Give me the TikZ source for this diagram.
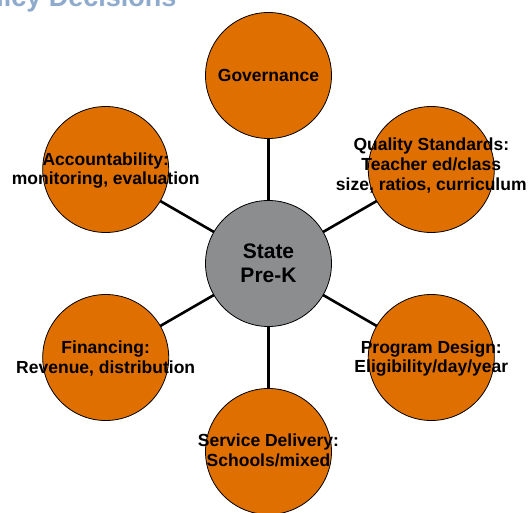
\documentclass[tikz,border=0pt]{standalone}
\usepackage{fontspec}
\setmainfont{Liberation Sans}
\usepackage{tikz}
\definecolor{hubgrey}{RGB}{139,141,143}
\definecolor{spokeorange}{RGB}{223,112,0}
\definecolor{titleblue}{RGB}{142,170,204}

\begin{document}
\begin{tikzpicture}[x=1pt, y=1pt,
	hub/.style={circle, draw=black, line width=0.8pt, fill=hubgrey, minimum size=126pt, inner sep=0pt},
	spoke/.style={circle, draw=black, line width=0.8pt, fill=spokeorange, minimum size=126pt, inner sep=0pt},
	lbl/.style={align=center, font=\fontsize{17.5}{19.8}\selectfont\bfseries, inner sep=0pt},
	link/.style={line width=2.6pt, color=black}]
			%%%%% START %%%%%
			
			\useasboundingbox (0, 0) rectangle (528, 512);
			\clip (0, 0) rectangle (528, 512);
			
			\node[anchor=base east, color=titleblue, font=\fontsize{27}{30}\selectfont\bfseries] (title) at (180, 505) {Policy Decisions};
			
			% hub
			\coordinate (c) at (268.5, 248.5);
			
			% spokes, 188pt out from the hub
			\coordinate (gov) at (268.5, 436.5);
			\coordinate (qual) at (431.3, 342.5);
			\coordinate (prog) at (431.3, 154.5);
			\coordinate (serv) at (268.5, 60.5);
			\coordinate (fin) at (105.7, 154.5);
			\coordinate (acc) at (105.7, 342.5);
			
			\foreach \s in {gov, qual, prog, serv, fin, acc}
				\draw[link] (c) -- (\s);
			
			\node[hub] (prek) at (c) {};
			\node[spoke] (govc) at (gov) {};
			\node[spoke] (qualc) at (qual) {};
			\node[spoke] (progc) at (prog) {};
			\node[spoke] (servc) at (serv) {};
			\node[spoke] (finc) at (fin) {};
			\node[spoke] (accc) at (acc) {};
			
			\node[lbl, font=\fontsize{21}{24}\selectfont\bfseries] (prekt) at (prek) {State\\Pre-K};
			\node[lbl] (govt) at (govc) {Governance};
			\node[lbl] (qualt) at ([yshift=4]qualc) {Quality Standards:\\Teacher ed/class\\size, ratios, curriculum};
			\node[lbl] (progt) at ([yshift=-1]progc) {Program Design:\\Eligibility/day/year};
			\node[lbl] (servt) at ([yshift=1]servc) {Service Delivery:\\Schools/mixed};
			\node[lbl] (fint) at ([yshift=-1]finc) {Financing:\\Revenue, distribution};
			\node[lbl] (acct) at ([yshift=-1]accc) {Accountability:\\monitoring, evaluation};
			
			%%%%% END %%%%%
		\end{tikzpicture}
\end{document}
